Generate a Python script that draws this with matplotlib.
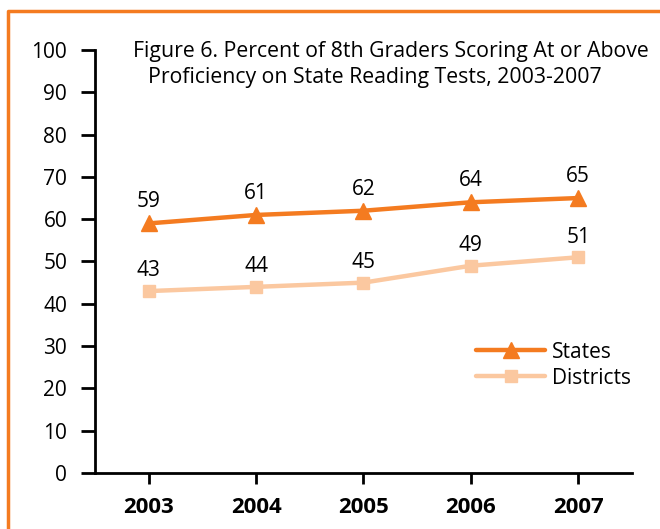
import matplotlib.pyplot as plt
from matplotlib.lines import Line2D

years = ["2003", "2004", "2005", "2006", "2007"]
states = [59, 61, 62, 64, 65]
districts = [43, 44, 45, 49, 51]

orange = "#F47B20"
peach = "#FBC8A0"

plt.rcParams["font.family"] = ["Open Sans", "DejaVu Sans"]

fig = plt.figure(figsize=(6.6, 5.29), dpi=100)
ax = fig.add_axes([0.1439, 0.1059, 0.8136, 0.7996])

x = list(range(len(years)))
ax.plot(x, states, color=orange, lw=3.2, marker="^", ms=12, label="States",
        solid_capstyle="round")
ax.plot(x, districts, color=peach, lw=3.2, marker="s", ms=8, label="Districts",
        solid_capstyle="round")

for i in x:
    ax.annotate(str(states[i]), (i, states[i]), xytext=(0, 8), textcoords="offset points",
                ha="center", va="bottom", fontsize=15)
    ax.annotate(str(districts[i]), (i, districts[i]), xytext=(0, 7), textcoords="offset points",
                ha="center", va="bottom", fontsize=15)

ax.set_xlim(-0.5, 4.5)
ax.set_ylim(0, 100)
ax.set_yticks(range(0, 101, 10))
ax.set_xticks(x)
ax.set_xticklabels(years, fontweight="bold", fontsize=16)
ax.tick_params(axis="y", labelsize=15, length=10, width=2, direction="out", pad=10)
ax.tick_params(axis="x", length=8, width=2, direction="out", pad=9)
for s in ["top", "right"]:
    ax.spines[s].set_visible(False)
for s in ["left", "bottom"]:
    ax.spines[s].set_linewidth(2)

ax.legend(loc="upper left", bbox_to_anchor=(0.675, 0.355), frameon=False, fontsize=15,
          handlelength=3.3, handletextpad=0.33, labelspacing=0.25)

fig.text(0.2015, 0.892, "Figure 6. Percent of 8th Graders Scoring At or Above", fontsize=15.3,
         ha="left", va="baseline")
fig.text(0.224, 0.843, "Proficiency on State Reading Tests, 2003-2007", fontsize=15.3,
         ha="left", va="baseline")

# orange frame, open at the right and bottom edges
fig.add_artist(Line2D([0.012, 0.012, 1.0], [0.0, 0.979, 0.979], transform=fig.transFigure,
                      color=orange, lw=2.5, solid_capstyle="butt"))

fig.savefig("out.png", dpi=100)
